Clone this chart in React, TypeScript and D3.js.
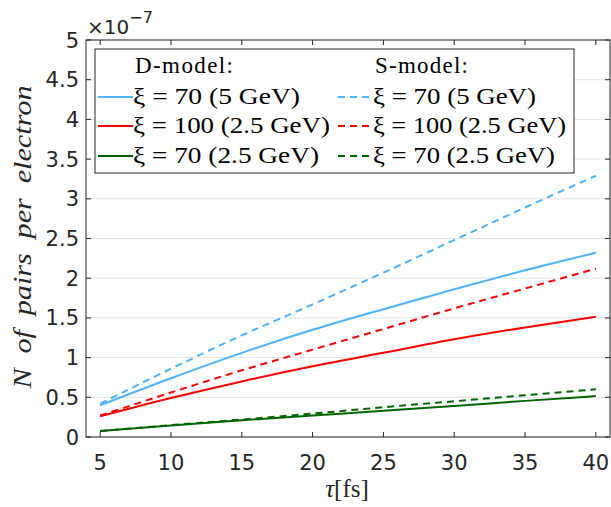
import * as d3 from "d3";

// tau in fs, pair yield in units of 1e-7
const tau = [5, 10, 15, 20, 25, 30, 35, 40];
const dXi70_5GeV = [0.4, 0.74, 1.06, 1.35, 1.61, 1.86, 2.1, 2.32];
const dXi100_25GeV = [0.26, 0.49, 0.7, 0.89, 1.06, 1.23, 1.38, 1.515];
const dXi70_25GeV = [0.075, 0.145, 0.21, 0.27, 0.33, 0.39, 0.455, 0.515];
const sXi70_5GeV = [0.42, 0.86, 1.28, 1.67, 2.07, 2.48, 2.89, 3.29];
const sXi100_25GeV = [0.27, 0.56, 0.84, 1.1, 1.36, 1.62, 1.87, 2.12];
const sXi70_25GeV = [0.075, 0.15, 0.22, 0.295, 0.375, 0.45, 0.525, 0.6];

const xTicks = [5, 10, 15, 20, 25, 30, 35, 40];
const yTicks = [0, 0.5, 1, 1.5, 2, 2.5, 3, 3.5, 4, 4.5, 5];
const labels = ["ξ = 70 (5 GeV)", "ξ = 100 (2.5 GeV)", "ξ = 70 (2.5 GeV)"];

const series = [
  { name: labels[0], model: "D", values: dXi70_5GeV, color: "#4db3ff" },
  { name: labels[1], model: "D", values: dXi100_25GeV, color: "#ff0000" },
  { name: labels[2], model: "D", values: dXi70_25GeV, color: "#006400" },
  { name: labels[0], model: "S", values: sXi70_5GeV, color: "#4db3ff" },
  { name: labels[1], model: "S", values: sXi100_25GeV, color: "#ff0000" },
  { name: labels[2], model: "S", values: sXi70_25GeV, color: "#006400" },
];

const axisColor = "#262626";
const sans = "'DejaVu Sans', 'Liberation Sans', sans-serif";
const serif = "'Liberation Serif', 'DejaVu Serif', serif";
const dash = "7,5";

export default function App() {
  const m = { left: 86, right: 610, top: 40, bottom: 437 };
  const x = d3.scaleLinear().domain([4, 41]).range([m.left, m.right]);
  const y = d3.scaleLinear().domain([0, 5]).range([m.bottom, m.top]);

  const line = d3
    .line<number>()
    .x((_, i) => x(tau[i]))
    .y((d) => y(d))
    .curve(d3.curveMonotoneX);

  // legend
  const lg = { x: 95, y: 49, w: 479, h: 124 };
  const rowY = [97, 126, 156];
  const textW = [167, 197, 186];

  return (
    <svg
      width={611}
      height={507}
      style={{ position: "absolute", left: 0, top: 0, background: "#fff" }}
    >
      <rect width={611} height={507} fill="#fff" />
      {/* grid */}
      {yTicks.map((t) => (
        <line
          key={"g" + t}
          x1={m.left}
          x2={m.right}
          y1={y(t)}
          y2={y(t)}
          stroke="#e3e3e3"
          strokeWidth={1}
        />
      ))}

      {/* data */}
      {series.map((s, i) => (
        <path
          key={i}
          d={line(s.values) ?? ""}
          fill="none"
          stroke={s.color}
          strokeWidth={2}
          strokeDasharray={s.model === "S" ? dash : undefined}
        />
      ))}

      {/* axes box */}
      <rect
        x={m.left}
        y={m.top}
        width={m.right - m.left}
        height={m.bottom - m.top}
        fill="none"
        stroke={axisColor}
        strokeWidth={1}
      />
      {xTicks.map((t) => (
        <g key={"x" + t}>
          <line x1={x(t)} x2={x(t)} y1={m.bottom} y2={m.bottom - 5} stroke={axisColor} />
          <line x1={x(t)} x2={x(t)} y1={m.top} y2={m.top + 5} stroke={axisColor} />
          <text
            x={x(t)}
            y={470}
            textAnchor="middle"
            fontFamily={sans}
            fontSize={21}
            fill={axisColor}
          >
            {t}
          </text>
        </g>
      ))}
      {yTicks.map((t) => (
        <g key={"y" + t}>
          <line x1={m.left} x2={m.left + 5} y1={y(t)} y2={y(t)} stroke={axisColor} />
          <line x1={m.right} x2={m.right - 5} y1={y(t)} y2={y(t)} stroke={axisColor} />
          <text
            x={79}
            y={y(t) + 7.5}
            textAnchor="end"
            fontFamily={sans}
            fontSize={21}
            fill={axisColor}
          >
            {String(t)}
          </text>
        </g>
      ))}

      {/* exponent */}
      <text x={87} y={34} fontFamily={sans} fontSize={20} fill={axisColor}>
        ×10
        <tspan dy={-11} fontSize={16}>
          −7
        </tspan>
      </text>

      {/* axis labels */}
      <text
        x={347}
        y={497}
        textAnchor="middle"
        fontFamily={serif}
        fontSize={25}
        fill={axisColor}
      >
        <tspan fontStyle="italic">τ</tspan>[fs]
      </text>
      <text
        transform="translate(31,237) rotate(-90)"
        textAnchor="middle"
        fontFamily={serif}
        fontStyle="italic"
        fontSize={25}
        wordSpacing={6}
        fill={axisColor}
        textLength={303}
        lengthAdjust="spacingAndGlyphs"
      >
        N of pairs per electron
      </text>

      {/* legend */}
      <rect
        x={lg.x}
        y={lg.y}
        width={lg.w}
        height={lg.h}
        fill="#fff"
        stroke={axisColor}
        strokeWidth={1}
      />
      <text x={135} y={73} fontFamily={serif} fontSize={23} fill="#000" textLength={98}>
        D-model:
      </text>
      <text x={375} y={73} fontFamily={serif} fontSize={23} fill="#000" textLength={93}>
        S-model:
      </text>
      {series.map((s, i) => {
        const col = s.model === "D" ? 0 : 1;
        const row = i % 3;
        const lx = col === 0 ? 98 : 338;
        const tx = col === 0 ? 133 : 373;
        return (
          <g key={"l" + i}>
            <line
              x1={lx}
              x2={lx + 35}
              y1={rowY[row]}
              y2={rowY[row]}
              stroke={s.color}
              strokeWidth={2}
              strokeDasharray={s.model === "S" ? dash : undefined}
            />
            <text
              x={tx}
              y={rowY[row] + 7}
              fontFamily={serif}
              fontSize={23}
              fill="#000"
              textLength={textW[row] - (col === 1 ? 4 : 0)}
              lengthAdjust="spacingAndGlyphs"
            >
              {s.name}
            </text>
          </g>
        );
      })}
    </svg>
  );
}
